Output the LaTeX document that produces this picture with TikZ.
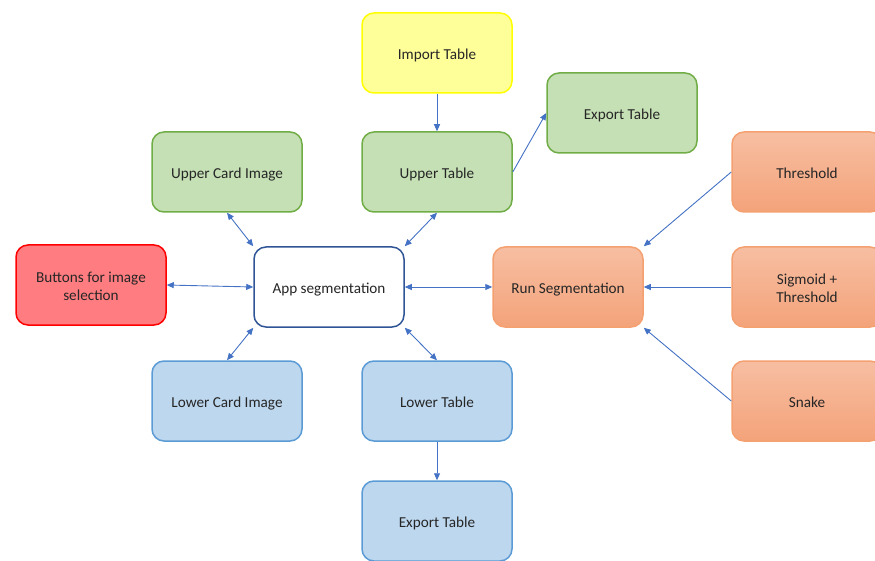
\documentclass[tikz,border=0pt]{standalone}
\usepackage{fontspec}
\setmainfont{Carlito}
\usetikzlibrary{arrows.meta}
\definecolor{txt}{HTML}{262626}
\definecolor{lnk}{HTML}{4472C4}
\definecolor{yfill}{HTML}{FFFF99}
\definecolor{ydraw}{HTML}{FFFF00}
\definecolor{gfill}{HTML}{C5E0B4}
\definecolor{gdraw}{HTML}{70AD47}
\definecolor{rfill}{HTML}{FF7C80}
\definecolor{rdraw}{HTML}{FF0000}
\definecolor{bfill}{HTML}{BDD7EE}
\definecolor{bdraw}{HTML}{5B9BD5}
\definecolor{adraw}{HTML}{2F5597}
\definecolor{otop}{HTML}{F7BEA2}
\definecolor{obot}{HTML}{F4A37A}
\definecolor{odraw}{HTML}{F4A070}
\newcommand\mytwol[2]{\smash{\begin{tabular}{@{}c@{}}#1\\#2\end{tabular}}}
\tikzset{
  box/.style={rounded corners=12pt, minimum width=150pt, minimum height=80pt,
    line width=1.5pt, align=center, text=txt, font=\fontsize{15.2}{18.2}\selectfont, inner sep=2pt,
    execute at begin node={\rule{0pt}{16.5pt}}, execute at end node={\rule[-3.5pt]{0pt}{3.5pt}}},
  ybox/.style={box, fill=yfill, draw=ydraw},
  gbox/.style={box, fill=gfill, draw=gdraw},
  rbox/.style={box, fill=rfill, draw=rdraw},
  bbox/.style={box, fill=bfill, draw=bdraw},
  abox/.style={box, fill=white, draw=adraw},
  obox/.style={box, top color=otop, bottom color=obot, draw=odraw},
  lk/.style={draw=lnk, line width=0.9pt, -{Triangle[width=6pt,length=7pt]}},
  lkb/.style={draw=lnk, line width=0.9pt, {Triangle[width=6pt,length=7pt]}-{Triangle[width=6pt,length=7pt]}},
}
\begin{document}
\begin{tikzpicture}[x=1pt,y=-1pt]
\useasboundingbox (0,0) rectangle (875,561);
\clip (0,0) rectangle (875,561);
\node[ybox] (imp) at (437,53) {Import Table};
\node[gbox] (upt) at (437,172) {Upper Table};
\node[gbox] (ext) at (622,113) {Export Table};
\node[gbox] (uci) at (227,172) {Upper Card Image};
\node[rbox] (btn) at (91,285) {\mytwol{Buttons for image}{selection}};
\node[abox] (app) at (329,287) {App segmentation};
\node[obox] (run) at (568,287) {Run Segmentation};
\node[obox] (thr) at (807,172) {Threshold};
\node[obox] (sig) at (807,287) {\mytwol{Sigmoid +}{Threshold}};
\node[obox] (snk) at (807,401) {Snake};
\node[bbox] (lci) at (227,401) {Lower Card Image};
\node[bbox] (lot) at (437,401) {Lower Table};
\node[bbox] (exb) at (437,521) {Export Table};

\draw[lk] (imp) -- (upt);
\draw[lk] (upt.east) -- (ext.west);
\draw[lkb] (uci.south) -- (app.north west);
\draw[lkb] (upt.south) -- (app.north east);
\draw[lkb] (btn.east) -- (app.west);
\draw[lkb] (app.east) -- (run.west);
\draw[lkb] (lci.north) -- (app.south west);
\draw[lkb] (lot.north) -- (app.south east);
\draw[lk] (lot) -- (exb);
\draw[lk] (thr.west) -- (run.north east);
\draw[lk] (sig.west) -- (run.east);
\draw[lk] (snk.west) -- (run.south east);
\end{tikzpicture}
\end{document}
